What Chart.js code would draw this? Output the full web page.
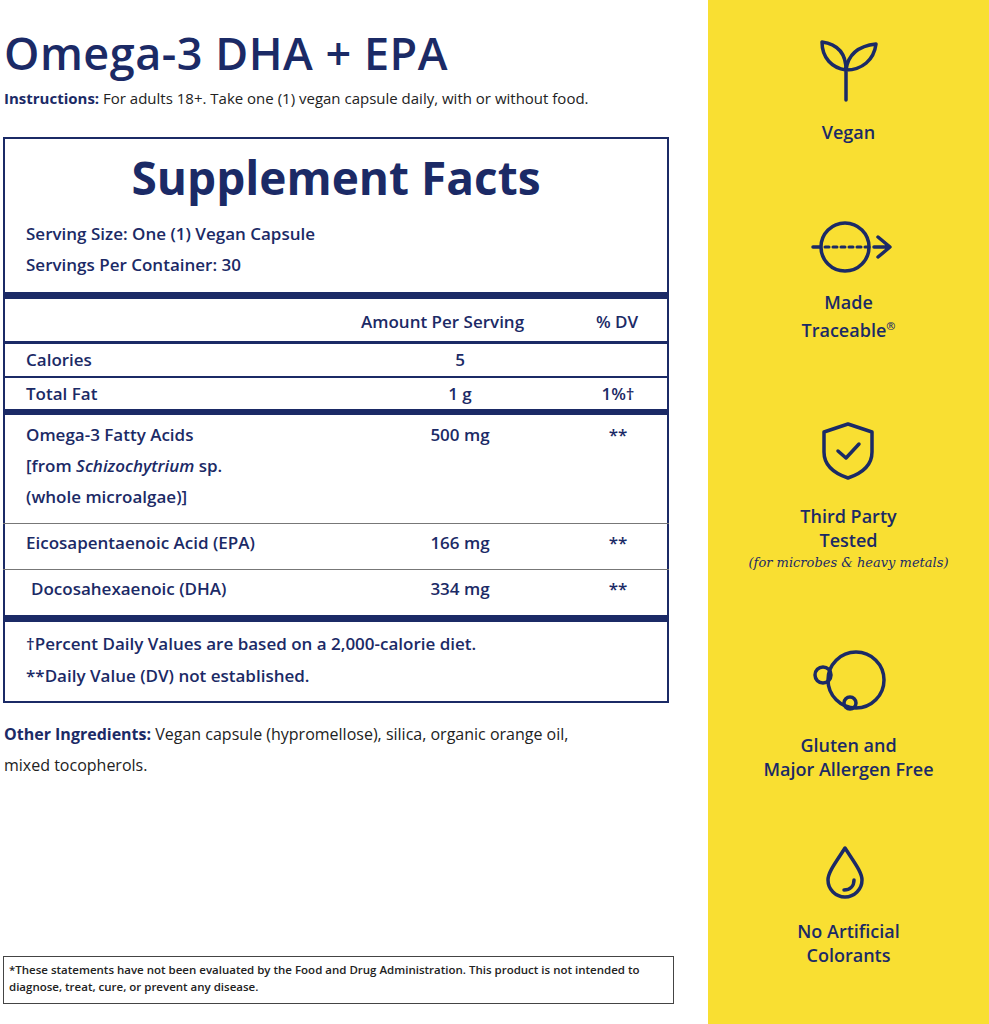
<!DOCTYPE html>
<html><head><meta charset="utf-8">
<script src="https://cdn.jsdelivr.net/npm/chart.js@4"></script>
<style>
body{margin:0;width:989px;height:1024px;position:relative;font-family:"Open Sans",Lato,sans-serif;color:#1b2a66;background:#fff;overflow:hidden}
.a{position:absolute}
.side{left:708px;top:0;width:281px;height:1024px;background:#f9df32}
.lbl{width:281px;text-align:center;font-size:18px;font-weight:600;line-height:24px;color:#1b2a66}
.box{left:3px;top:137px;width:662px;height:562px;border:2px solid #1b2a66}
.row{font-size:17px;font-weight:600}
.hr{left:3px;width:666px;background:#1b2a66}
</style></head><body>
<div class="a side"></div>
<div class="a" style="left:4px;top:22px;font-size:45px;font-weight:600;letter-spacing:0.5px">Omega-3 DHA + EPA</div>
<div class="a" style="left:4px;top:88px;font-size:15px;color:#222"><b style="color:#1b2a66">Instructions:</b> For adults 18+. Take one (1) vegan capsule daily, with or without food.</div>
<div class="a box"></div>
<div class="a" style="left:3px;width:666px;top:146px;text-align:center;font-size:46px;font-weight:700">Supplement Facts</div>
<div class="a row" style="left:26px;top:222px">Serving Size: One (1) Vegan Capsule</div>
<div class="a row" style="left:26px;top:253px">Servings Per Container: 30</div>
<div class="a hr" style="top:292px;height:7px"></div>
<div class="a row" style="left:361px;top:310px">Amount Per Serving</div>
<div class="a row" style="left:596px;top:310px">% DV</div>
<div class="a hr" style="top:341px;height:3px"></div>
<div class="a hr" style="top:376px;height:2px"></div>
<div class="a hr" style="top:409px;height:6px"></div>
<div class="a hr" style="top:523px;height:1px;background:#777"></div>
<div class="a hr" style="top:569px;height:1px;background:#777"></div>
<div class="a hr" style="top:615px;height:7px"></div>
<div id="rows"></div>
<div class="a row" style="left:26px;top:632px">†Percent Daily Values are based on a 2,000-calorie diet.</div>
<div class="a row" style="left:26px;top:664px">**Daily Value (DV) not established.</div>
<div class="a" style="left:4px;top:719px;font-size:16px;line-height:31px;color:#222;width:640px"><b style="color:#1b2a66">Other Ingredients:</b> Vegan capsule (hypromellose), silica, organic orange oil,<br>mixed tocopherols.</div>
<div class="a" style="left:3px;top:956px;width:659px;height:38px;border:1px solid #444;padding:4px 5px;font-size:11.5px;font-weight:600;color:#222;line-height:17px">*These statements have not been evaluated by the Food and Drug Administration. This product is not intended to diagnose, treat, cure, or prevent any disease.</div>

<svg class="a" style="left:708px;top:0" width="281" height="1024" fill="none" stroke="#1b2a66" stroke-width="3.5" stroke-linecap="round" stroke-linejoin="round">
<path d="M138 100 V70 M138 70 C138 52 128 44 114 42 C114 58 124 68 138 70 M138 70 C140 54 150 46 168 44 C166 60 154 70 138 70"/>
<circle cx="137" cy="247" r="24"/><path d="M105 247 H112 M166 247 H180 M170 237 L182 247 L170 257" /><path d="M117 247 H162" stroke-dasharray="4 4" stroke-width="3"/>
<path d="M140 424 L164 432 V452 C164 466 152 474 140 478 C128 474 116 466 116 452 V432 Z"/><path d="M130 451 L138 458 L151 444"/>
<circle cx="148" cy="680" r="28"/><circle cx="115" cy="675" r="8"/><circle cx="142" cy="703" r="6"/>
<path d="M137 848 C128 862 120 872 120 880 A17 17 0 0 0 154 880 C154 872 146 862 137 848 Z"/><path d="M146 880 C146 886 142 890 136 890"/>
</svg>
<div class="a lbl" style="left:708px;top:120px">Vegan</div>
<div class="a lbl" style="left:708px;top:290px">Made<br>Traceable<sup style="font-size:11px">®</sup></div>
<div class="a lbl" style="left:708px;top:504px">Third Party<br>Tested</div>
<div class="a" style="left:708px;top:555px;width:281px;text-align:center;font-family:'DejaVu Serif',serif;font-style:italic;font-size:13px">(for microbes &amp; heavy metals)</div>
<div class="a lbl" style="left:708px;top:733px">Gluten and<br>Major Allergen Free</div>
<div class="a lbl" style="left:708px;top:919px">No Artificial<br>Colorants</div>
<canvas id="c" style="display:none"></canvas>
<script>
const nutrients=["Calories","Total Fat","Omega-3 Fatty Acids","Eicosapentaenoic Acid (EPA)","Docosahexaenoic (DHA)"];
const amounts=["5","1 g","500 mg","166 mg","334 mg"];
const dvs=["","1%†","**","**","**"];
const amountValues=[5,1,500,166,334];
const tops=[350,384,425,533,579];
const rows=document.getElementById('rows');
nutrients.forEach((n,i)=>{
 const left=i===4?31:26;
 let name=n;
 if(i===2) name=n+'<br>[from <i>Schizochytrium</i> sp.<br>(whole microalgae)]';
 rows.insertAdjacentHTML('beforeend',`<div class="a row" style="left:${left}px;top:${tops[i]}px;line-height:31px;margin-top:-6px">${name}</div>`+
 `<div class="a row" style="left:380px;width:160px;text-align:center;top:${tops[i]}px;margin-top:-6px;line-height:31px">${amounts[i]}</div>`+
 `<div class="a row" style="left:578px;width:80px;text-align:center;top:${tops[i]}px;margin-top:-6px;line-height:31px">${dvs[i]}</div>`);
});
try{new Chart(document.getElementById('c'),{type:'bar',data:{labels:nutrients,datasets:[{data:amountValues}]},options:{animation:false,responsive:false}});}catch(e){}
</script>
</body></html>
